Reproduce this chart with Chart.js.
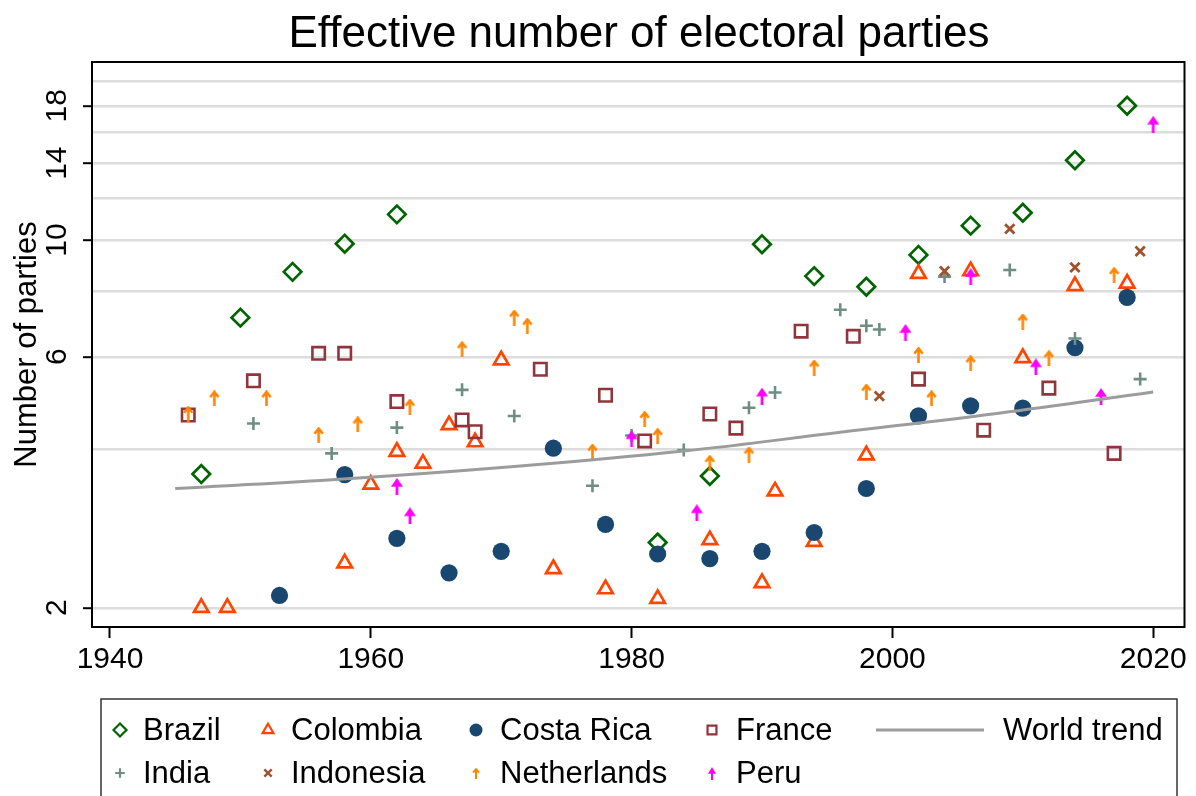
<!DOCTYPE html>
<html>
<head>
<meta charset="utf-8">
<script src="https://cdn.jsdelivr.net/npm/chart.js@4.4.1/dist/chart.umd.min.js"></script>
<style>
  html, body { margin: 0; padding: 0; background: #fff; }
  canvas { display: block; }
</style>
</head>
<body>
<canvas id="chart" width="1196" height="796"></canvas>
<script>
// ---- Data: effective number of electoral parties by election year ----
const brazilYears   = [1947, 1950, 1954, 1958, 1962, 1982, 1986, 1990, 1994, 1998, 2002, 2006, 2010, 2014, 2018];
const brazilParties = [3.59, 7.12, 8.70, 9.84, 11.19, 2.66, 3.56, 9.82, 8.54, 8.15, 9.37, 10.65, 11.27, 14.18, 18.0];

const colombiaYears   = [1947, 1949, 1958, 1960, 1962, 1964, 1966, 1968, 1970, 1974, 1978, 1982, 1986, 1990, 1991, 1994, 1998, 2002, 2006, 2010, 2014, 2018];
const colombiaParties = [2.00, 2.00, 2.43, 3.43, 3.96, 3.76, 4.45, 4.13, 5.91, 2.37, 2.17, 2.08, 2.69, 2.23, 3.33, 2.67, 3.90, 8.63, 8.73, 5.97, 8.18, 8.27];

const costaRicaYears   = [1953, 1958, 1962, 1966, 1970, 1974, 1978, 1982, 1986, 1990, 1994, 1998, 2002, 2006, 2010, 2014, 2018];
const costaRicaParties = [2.11, 3.58, 2.71, 2.33, 2.56, 4.02, 2.88, 2.53, 2.48, 2.56, 2.78, 3.37, 4.63, 4.84, 4.79, 6.24, 7.78];

const franceYears   = [1946, 1951, 1956, 1958, 1962, 1967, 1968, 1973, 1978, 1981, 1986, 1988, 1993, 1997, 2002, 2007, 2012, 2017];
const franceParties = [4.65, 5.40, 6.09, 6.09, 4.93, 4.55, 4.32, 5.68, 5.07, 4.15, 4.67, 4.39, 6.71, 6.56, 5.44, 4.35, 5.23, 3.93];

const indiaYears   = [1951, 1957, 1962, 1967, 1971, 1977, 1980, 1984, 1989, 1991, 1996, 1998, 1999, 2004, 2009, 2014, 2019];
const indiaParties = [4.48, 3.93, 4.40, 5.19, 4.63, 3.41, 4.25, 3.99, 4.80, 5.13, 7.37, 6.87, 6.76, 8.52, 8.77, 6.50, 5.44];

const indonesiaYears   = [1999, 2004, 2009, 2014, 2019];
const indonesiaParties = [5.05, 8.73, 10.50, 8.87, 9.52];

const netherlandsYears   = [1946, 1948, 1952, 1956, 1959, 1963, 1967, 1971, 1972, 1977, 1981, 1982, 1986, 1989, 1994, 1998, 2002, 2003, 2006, 2010, 2012, 2017];
const netherlandsParties = [4.67, 5.00, 5.00, 4.26, 4.46, 4.82, 6.20, 7.12, 6.87, 3.96, 4.57, 4.24, 3.77, 3.91, 5.72, 5.15, 6.05, 5.00, 5.83, 7.00, 5.96, 8.58];

const peruYears   = [1962, 1963, 1980, 1985, 1990, 2001, 2006, 2011, 2016, 2020];
const peruParties = [3.40, 2.99, 4.19, 3.03, 5.05, 6.67, 8.52, 5.74, 5.04, 16.6];

const trendYears  = [1945, 1957, 1971, 1984, 1996, 2008, 2020];
const trendValues = [3.37, 3.50, 3.71, 3.97, 4.31, 4.68, 5.14];

const xTickYears   = [1940, 1960, 1980, 2000, 2020];
const yGridValues  = [2, 4, 6, 8, 10, 12, 14, 16, 18, 20];
const yTickLabels  = [2, 6, 10, 14, 18];

const FONT = '"Liberation Sans", Arial, Helvetica, sans-serif';

const COLORS = {
  brazil: '#006400',
  colombia: '#ff4500',
  costaRica: '#1a476f',
  france: '#90353b',
  india: '#6e8e84',
  indonesia: '#a0522d',
  netherlands: '#ff8500',
  peru: '#ff00ff',
  trend: '#9c9c9c'
};

// Arrow-shaped marker drawn on a small offscreen canvas
function makeArrow(color, w, h, filled, lw) {
  const c = document.createElement('canvas');
  c.width = w; c.height = h;
  const g = c.getContext('2d');
  g.strokeStyle = color; g.fillStyle = color; g.lineWidth = lw;
  if (filled) {
    const headH = h * 0.52;
    g.beginPath(); g.moveTo(w / 2, 0); g.lineTo(w, headH); g.lineTo(0, headH); g.closePath(); g.fill();
    g.beginPath(); g.moveTo(w / 2, headH - 1); g.lineTo(w / 2, h); g.stroke();
  } else {
    g.lineCap = 'butt'; g.lineJoin = 'miter';
    g.beginPath(); g.moveTo(w / 2, lw * 0.6); g.lineTo(w / 2, h); g.stroke();
    g.beginPath(); g.moveTo(lw / 2, h * 0.42); g.lineTo(w / 2, lw * 0.6); g.lineTo(w - lw / 2, h * 0.42); g.stroke();
  }
  return c;
}

const nlArrow = makeArrow(COLORS.netherlands, 11, 16, false, 2.6);
const peruArrow = makeArrow(COLORS.peru, 12, 17, true, 2.8);
const nlArrowSmall = makeArrow(COLORS.netherlands, 8, 11, false, 2);
const peruArrowSmall = makeArrow(COLORS.peru, 8, 13, true, 2);

const pts = (xs, ys) => xs.map((x, i) => ({ x: x, y: ys[i] }));

const HOLLOW = 'rgba(0,0,0,0)';

const datasets = [
  { label: 'World trend', data: pts(trendYears, trendValues), showLine: true, pointRadius: 0,
    borderColor: COLORS.trend, borderWidth: 3, tension: 0.4, fill: false, order: 0 },
  { label: 'Peru', data: pts(peruYears, peruParties), pointStyle: peruArrow, pointRadius: 6, order: 1 },
  { label: 'Netherlands', data: pts(netherlandsYears, netherlandsParties), pointStyle: nlArrow, pointRadius: 6, order: 2 },
  { label: 'Indonesia', data: pts(indonesiaYears, indonesiaParties), pointStyle: 'crossRot', pointRadius: 6.6,
    borderColor: COLORS.indonesia, backgroundColor: COLORS.indonesia, borderWidth: 2.8, order: 3 },
  { label: 'India', data: pts(indiaYears, indiaParties), pointStyle: 'cross', pointRadius: 6.5,
    borderColor: COLORS.india, backgroundColor: COLORS.india, borderWidth: 2.6, order: 4 },
  { label: 'France', data: pts(franceYears, franceParties), pointStyle: 'rect', pointRadius: 8.8,
    borderColor: COLORS.france, backgroundColor: HOLLOW, borderWidth: 2.6, order: 5 },
  { label: 'Costa Rica', data: pts(costaRicaYears, costaRicaParties), pointStyle: 'circle', pointRadius: 8.6,
    borderColor: COLORS.costaRica, backgroundColor: COLORS.costaRica, borderWidth: 0, order: 6 },
  { label: 'Colombia', data: pts(colombiaYears, colombiaParties), pointStyle: 'triangle', pointRadius: 8.4,
    borderColor: COLORS.colombia, backgroundColor: HOLLOW, borderWidth: 2.7, order: 7 },
  { label: 'Brazil', data: pts(brazilYears, brazilParties), pointStyle: 'rectRot', pointRadius: 8.8,
    borderColor: COLORS.brazil, backgroundColor: HOLLOW, borderWidth: 2.7, order: 8 }
];

// Title, rotated y labels, plot frame and the two-row legend
const decorations = {
  id: 'decorations',
  afterDraw(chart) {
    const ctx = chart.ctx;
    const area = chart.chartArea;
    const yScale = chart.scales.y;

    ctx.save();
    // Title
    ctx.fillStyle = '#000';
    ctx.font = '44px ' + FONT;
    ctx.textAlign = 'center';
    ctx.textBaseline = 'alphabetic';
    ctx.fillText('Effective number of electoral parties', 639, 47);

    // Y tick labels (rotated)
    ctx.font = '30px ' + FONT;
    yTickLabels.forEach(v => {
      const y = yScale.getPixelForValue(v);
      ctx.save();
      ctx.translate(66, y);
      ctx.rotate(-Math.PI / 2);
      ctx.textAlign = 'center';
      ctx.fillText(String(v), 0, 0);
      ctx.restore();
    });

    // Y axis title
    ctx.font = '31px ' + FONT;
    ctx.save();
    ctx.translate(36, (area.top + area.bottom) / 2);
    ctx.rotate(-Math.PI / 2);
    ctx.textAlign = 'center';
    ctx.fillText('Number of parties', 0, 0);
    ctx.restore();

    // Plot frame
    ctx.strokeStyle = '#000';
    ctx.lineWidth = 2;
    ctx.strokeRect(area.left, area.top, area.right - area.left, area.bottom - area.top);

    // Legend box
    ctx.strokeStyle = '#333';
    ctx.lineWidth = 1.5;
    ctx.strokeRect(101, 699, 1076, 120);

    const row1 = 730, row2 = 773;
    const items = [
      { label: 'Brazil', mx: 120, tx: 143, y: row1, style: 'rectRot', r: 6.5, color: COLORS.brazil, fill: false, bw: 2.2 },
      { label: 'Colombia', mx: 268, tx: 291, y: row1, style: 'triangle', r: 6.3, color: COLORS.colombia, fill: false, bw: 2.2 },
      { label: 'Costa Rica', mx: 476, tx: 500, y: row1, style: 'circle', r: 6.5, color: COLORS.costaRica, fill: true, bw: 0 },
      { label: 'France', mx: 712, tx: 736, y: row1, style: 'rect', r: 6.3, color: COLORS.france, fill: false, bw: 2.2 },
      { label: 'India', mx: 120, tx: 143, y: row2, style: 'cross', r: 4.8, color: COLORS.india, fill: false, bw: 2.2 },
      { label: 'Indonesia', mx: 268, tx: 291, y: row2, style: 'crossRot', r: 5.2, color: COLORS.indonesia, fill: false, bw: 2.4 },
      { label: 'Netherlands', mx: 476, tx: 500, y: row2, image: nlArrowSmall },
      { label: 'Peru', mx: 712, tx: 736, y: row2, image: peruArrowSmall }
    ];

    ctx.font = '31px ' + FONT;
    ctx.textAlign = 'left';
    ctx.textBaseline = 'middle';
    items.forEach(it => {
      if (it.image) {
        ctx.drawImage(it.image, Math.round(it.mx - it.image.width / 2), Math.round(it.y - it.image.height / 2));
      } else {
        ctx.strokeStyle = it.color;
        ctx.fillStyle = it.fill ? it.color : HOLLOW;
        ctx.lineWidth = it.bw;
        Chart.helpers.drawPoint(ctx, { pointStyle: it.style, radius: it.r, borderWidth: it.bw, rotation: 0 }, it.mx, it.y);
      }
      ctx.fillStyle = '#000';
      ctx.fillText(it.label, it.tx, it.y + 1);
    });

    // World trend key
    ctx.strokeStyle = COLORS.trend;
    ctx.lineWidth = 3;
    ctx.beginPath();
    ctx.moveTo(876, row1);
    ctx.lineTo(984, row1);
    ctx.stroke();
    ctx.fillStyle = '#000';
    ctx.fillText('World trend', 1003, row1 + 1);

    ctx.restore();
  }
};

new Chart(document.getElementById('chart'), {
  type: 'scatter',
  data: { datasets: datasets },
  plugins: [decorations],
  options: {
    responsive: false,
    animation: false,
    events: [],
    layout: { padding: { top: 62, right: 9, bottom: 99, left: 0 } },
    plugins: {
      legend: { display: false },
      title: { display: false },
      tooltip: { enabled: false }
    },
    scales: {
      x: {
        type: 'linear',
        min: 1938.62,
        max: 2022.4,
        afterBuildTicks: s => { s.ticks = xTickYears.map(v => ({ value: v })); },
        afterFit: s => { s.height = 70; s.paddingLeft = 0; s.paddingRight = 0; },
        grid: { drawOnChartArea: false, drawTicks: true, tickLength: 11, tickWidth: 2, tickColor: '#000' },
        border: { display: false },
        ticks: {
          font: { family: FONT, size: 30 },
          color: '#000',
          padding: 4,
          maxRotation: 0,
          autoSkip: false,
          callback: v => String(v)
        }
      },
      y: {
        type: 'logarithmic',
        min: 1.838,
        max: 21.8,
        afterBuildTicks: s => { s.ticks = yGridValues.map(v => ({ value: v })); },
        afterFit: s => { s.width = 92; s.paddingTop = 0; s.paddingBottom = 0; },
        grid: {
          color: '#dcdcdc',
          lineWidth: 2.4,
          drawTicks: true,
          tickLength: 9,
          tickWidth: 2,
          tickColor: c => (c.tick && yTickLabels.includes(c.tick.value)) ? '#000' : 'rgba(0,0,0,0)'
        },
        border: { display: false },
        ticks: { display: false }
      }
    }
  }
});
</script>
</body>
</html>
